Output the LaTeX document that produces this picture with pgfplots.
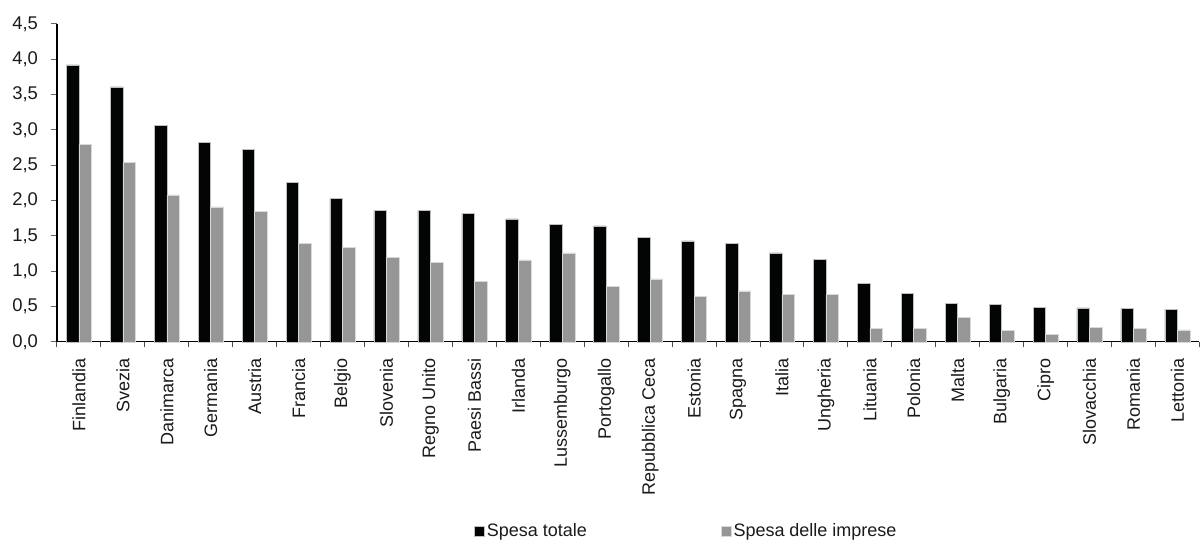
\documentclass[border=0pt]{standalone}
\usepackage{pgfplots}
\pgfplotsset{compat=1.18}
\usepackage{fontspec}
\setmainfont{Liberation Sans}
\definecolor{barblack}{HTML}{030505}
\definecolor{bargray}{HTML}{969696}
\definecolor{txt}{HTML}{1A1A1A}
\begin{document}
\begin{tikzpicture}
\begin{axis}[
  scale only axis,
  width=571.5pt, height=159pt,
  xmin=-0.5, xmax=25.5,
  ymin=0, ymax=4.5,
  axis x line*=bottom, axis y line*=left,
  axis line style={black, line width=0.6pt},
  ybar=0pt, bar width=6.3pt,
  xtick={0,...,25},
  xticklabels={Finlandia,Svezia,Danimarca,Germania,Austria,Francia,Belgio,Slovenia,Regno Unito,Paesi Bassi,Irlanda,Lussemburgo,Portogallo,Repubblica Ceca,Estonia,Spagna,Italia,Ungheria,Lituania,Polonia,Malta,Bulgaria,Cipro,Slovacchia,Romania,Lettonia},
  x tick label style={rotate=90, anchor=east, font=\fontsize{9}{10}\selectfont, text=txt, inner sep=1pt},
  xticklabel shift=4pt,
  major x tick style={draw=none},
  minor xtick={-0.5,0.5,...,25.5},
  minor x tick style={black!70, line width=0.5pt},
  minor tick length=2.8pt,
  ytick={0,0.5,...,4.5},
  y tick style={black!60, line width=0.5pt},
  major tick length=3pt,
  tick align=outside,
  y tick label style={font=\fontsize{9.2}{10}\selectfont, text=txt},
  yticklabel shift=3pt,
  yticklabel style={/pgf/number format/.cd, fixed, fixed zerofill, precision=1, use comma, assume math mode=true},
  legend columns=2,
  legend style={draw=none, fill=none, at={(rel axis cs:0.365,-0.597)}, anchor=west,
    font=\fontsize{9}{10}\selectfont, text=txt, inner sep=0pt,
    /tikz/every even column/.append style={column sep=66pt},
    nodes={inner xsep=1pt, inner ysep=0pt}},
  legend image code/.code={\fill[#1] (0pt,-2.5pt) rectangle (5pt,2.5pt);},
  clip=false,
]
\addplot[fill=barblack, draw=black!25, line width=0.3pt] coordinates {
(0,3.92) (1,3.61) (2,3.06) (3,2.82) (4,2.72) (5,2.26) (6,2.03) (7,1.86) (8,1.86) (9,1.82)
(10,1.74) (11,1.66) (12,1.64) (13,1.48) (14,1.43) (15,1.39) (16,1.26) (17,1.17) (18,0.83) (19,0.68)
(20,0.54) (21,0.53) (22,0.49) (23,0.48) (24,0.47) (25,0.46)};
\addlegendentry{Spesa totale}
\addplot[fill=bargray, draw=black!15, line width=0.3pt] coordinates {
(0,2.80) (1,2.54) (2,2.08) (3,1.91) (4,1.85) (5,1.39) (6,1.34) (7,1.20) (8,1.12) (9,0.86)
(10,1.16) (11,1.26) (12,0.78) (13,0.89) (14,0.64) (15,0.72) (16,0.67) (17,0.67) (18,0.19) (19,0.19)
(20,0.35) (21,0.16) (22,0.10) (23,0.20) (24,0.19) (25,0.17)};
\addlegendentry{Spesa delle imprese}
\coordinate (O) at (rel axis cs:0,0);
\coordinate (T) at (rel axis cs:1,1);
\end{axis}
\path[use as bounding box] ([xshift=-28.5pt,yshift=-97pt]O) rectangle ([yshift=12pt]T);
\end{tikzpicture}
\end{document}
